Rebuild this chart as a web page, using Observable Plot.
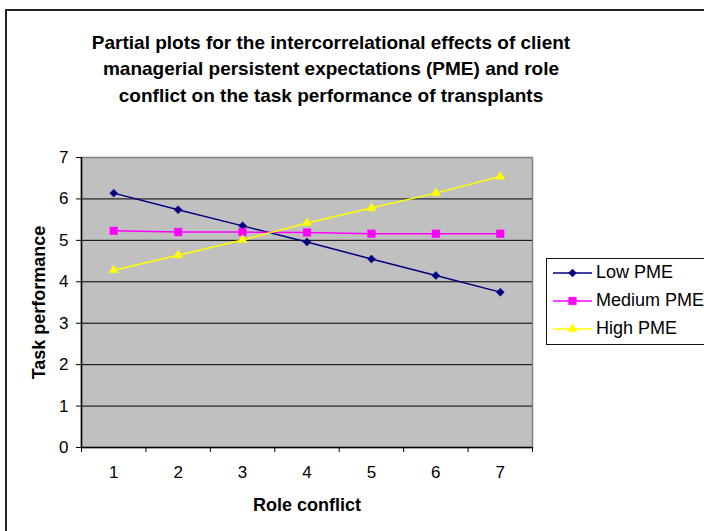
<!DOCTYPE html>
<html>
<head>
<meta charset="utf-8">
<script src="https://cdn.jsdelivr.net/npm/d3@7"></script>
<script src="https://cdn.jsdelivr.net/npm/@observablehq/plot@0.6"></script>
<style>
  html, body { margin: 0; padding: 0; background: #fff; }
  #wrap { position: relative; width: 704px; height: 531px; overflow: hidden; font-family: "Liberation Sans", Arial, sans-serif; }
  #frame { position: absolute; left: 5px; top: 9px; width: 740px; height: 560px; border: 2px solid #222; pointer-events: none; }
  #title { position: absolute; left: 0; top: 0; }
  #chart { position: absolute; left: 0; top: 120px; }
  #legend { position: absolute; left: 546px; top: 258px; width: 175px; height: 85px; border: 1.5px solid #111; background: #fff; }
  .row { position: absolute; left: 0; height: 28px; width: 175px; }
  .row svg { position: absolute; left: 5px; top: 0; }
  .row span { position: absolute; left: 49px; top: 2px; font-size: 18px; line-height: 23px; color: #000; white-space: nowrap; }
</style>
</head>
<body>
<div id="wrap">
  <svg id="title" width="704" height="120"></svg>
  <div id="chart"></div>
  <div id="legend"></div>
  <div id="frame"></div>
</div>
<script>
// ---- data ----
const titleLines = [
  "Partial plots for the intercorrelational effects of client",
  "managerial persistent expectations (PME) and role",
  "conflict on the task performance of transplants"
];
const roleConflict = [1, 2, 3, 4, 5, 6, 7];
const lowPME    = [6.14, 5.74, 5.35, 4.96, 4.55, 4.15, 3.75];
const mediumPME = [5.23, 5.20, 5.20, 5.19, 5.16, 5.16, 5.16];
const highPME   = [4.28, 4.64, 5.01, 5.42, 5.78, 6.14, 6.54];
const seriesNames = ["Low PME", "Medium PME", "High PME"];
const seriesColors = ["#000080", "#FF00FF", "#FFFF00"];
const yTicks = [0, 1, 2, 3, 4, 5, 6, 7];
const xLabel = "Role conflict";
const yLabel = "Task performance";

// ---- title ----
const tsvg = d3.select("#title");
titleLines.forEach((t, i) => {
  tsvg.append("text")
    .attr("x", 331).attr("y", 48.5 + 26.5 * i)
    .attr("text-anchor", "middle")
    .attr("font-family", "Liberation Sans, Arial, sans-serif")
    .attr("font-weight", "bold").attr("font-size", 19)
    .attr("fill", "#000")
    .text(t);
});

// ---- table ----
const seriesValues = [lowPME, mediumPME, highPME];
const rows = [];
seriesNames.forEach((s, k) => roleConflict.forEach((x, i) => rows.push({series: s, x, y: seriesValues[k][i]})));

const symbols = ["diamond2", "square", "triangle"];
const radii = [3.6, 4.3, 3.4];
const xEdges = roleConflict.map(v => v - 0.5).concat([roleConflict[roleConflict.length - 1] + 0.5]);

const chart = Plot.plot({
  width: 704,
  height: 411,
  marginLeft: 81,
  marginRight: 172,
  marginTop: 37,
  marginBottom: 84,
  style: {fontFamily: "Liberation Sans, Arial, sans-serif", fontSize: "17px", color: "#000", background: "transparent", overflow: "visible"},
  x: {type: "linear", domain: [xEdges[0], xEdges[xEdges.length - 1]]},
  y: {domain: [0, 7]},
  color: {domain: seriesNames, range: seriesColors},
  marks: [
    Plot.frame({fill: "#C0C0C0", stroke: "#808080", strokeWidth: 1.5}),
    Plot.gridY(yTicks.slice(1, -1), {stroke: "#000", strokeOpacity: 1, strokeWidth: 1}),
    Plot.ruleY([0], {stroke: "#000", strokeWidth: 1.5}),
    Plot.ruleX([xEdges[0]], {stroke: "#000", strokeWidth: 1.5}),
    Plot.axisY(yTicks, {tickSize: 5, tickPadding: 8, label: null, fontSize: 17, tickFormat: d => String(d)}),
    Plot.axisX(xEdges, {tickSize: 5, tickFormat: () => "", label: null}),
    Plot.axisX(roleConflict, {tickSize: 0, tickPadding: 18, label: null, fontSize: 17, tickFormat: d => String(d)}),
    Plot.line(rows, {x: "x", y: "y", z: "series", stroke: "series", strokeWidth: 1.5}),
    ...seriesNames.map((s, k) => Plot.dot(rows.filter(d => d.series === s), {
      x: "x", y: "y", symbol: () => symbols[k], r: radii[k], fill: seriesColors[k], stroke: seriesColors[k], strokeWidth: 0.5
    })),
    Plot.text([yLabel], {frameAnchor: "left", rotate: -90, dx: -42, textAnchor: "middle", lineAnchor: "middle", fontWeight: "bold", fontSize: 18, fill: "#000"}),
    Plot.text([xLabel], {frameAnchor: "bottom", dy: 58, textAnchor: "middle", lineAnchor: "middle", fontWeight: "bold", fontSize: 18, fill: "#000"})
  ]
});
document.getElementById("chart").appendChild(chart);

// ---- legend ----
const legend = d3.select("#legend");
const symTypes = [d3.symbolDiamond2, d3.symbolSquare, d3.symbolTriangle];
const symSizes = radii.map(r => Math.PI * r * r);
seriesNames.forEach((s, k) => {
  const row = legend.append("div").attr("class", "row").style("top", (k * 28) + "px");
  const svg = row.append("svg").attr("width", 42).attr("height", 28);
  svg.append("line").attr("x1", 1).attr("x2", 40).attr("y1", 14).attr("y2", 14)
    .attr("stroke", seriesColors[k]).attr("stroke-width", 1.5);
  svg.append("path").attr("transform", "translate(20.5,14)")
    .attr("d", d3.symbol(symTypes[k], symSizes[k])())
    .attr("fill", seriesColors[k]).attr("stroke", seriesColors[k]).attr("stroke-width", 0.5);
  row.append("span").text(s);
});
</script>
</body>
</html>
